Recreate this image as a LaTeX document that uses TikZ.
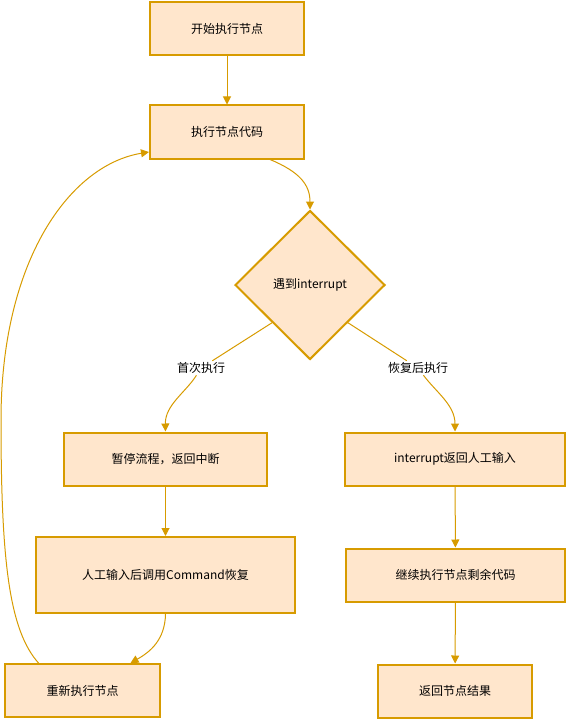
\documentclass[tikz,border=0pt]{standalone}
\usepackage{fontspec}
\setmainfont{Noto Sans CJK SC}
\usetikzlibrary{shapes.geometric,arrows.meta}

\definecolor{boxfill}{HTML}{FFE6CC}
\definecolor{boxline}{HTML}{D79B00}

\begin{document}
\begin{tikzpicture}[x=1bp,y=-1bp,
  font=\fontsize{12bp}{14bp}\selectfont,
  box/.style={draw=boxline, fill=boxfill, line width=2bp, minimum height=53bp, inner sep=0pt},
  decision/.style={diamond, draw=boxline, fill=boxfill, line width=2bp, minimum width=150bp, minimum height=149bp, inner sep=0pt},
  link/.style={draw=boxline, line width=1bp},
  flow/.style={link, -{Triangle[length=8bp,width=8bp]}},
  branch/.style={fill=white, inner sep=1.5bp}]

\useasboundingbox (0,0) rectangle (567,719);

% Main column
\node[box, minimum width=154bp] (start) at (227,28.5) {开始执行节点};
\node[box, minimum width=154bp] (code) at (227,132) {执行节点代码};
\node[decision] (check) at (310,285) {遇到interrupt};

% Left branch (first run)
\node[box, minimum width=203bp] (pause) at (165.5,459) {暂停流程，返回中断};
\node[box, minimum width=259bp, minimum height=76bp] (resume) at (165.5,575) {人工输入后调用Command恢复};
\node[box, minimum width=155bp] (rerun) at (82.5,690.5) {重新执行节点};

% Right branch (after resume)
\node[box, minimum width=220bp] (ask) at (455,459) {interrupt返回人工输入};
\node[box, minimum width=219bp] (rest) at (455.5,575) {继续执行节点剩余代码};
\node[box, minimum width=154bp] (result) at (455,691) {返回节点结果};

% Branch labels
\node[branch] (first) at (201,368) {首次执行};
\node[branch] (again) at (418,368) {恢复后执行};

% Connectors
\draw[flow] (start) -- (code);
\draw[flow] ([xshift=43bp]code.south) .. controls (300,172) and (310,185) .. (check.north);

\draw[link] (check.south west) -- (first);
\draw[flow] (first) .. controls (186,392) and (165,405) .. (pause.north);
\draw[link] (check.south east) -- (again);
\draw[flow] (again) .. controls (436,392) and (455,405) .. (ask.north);

\draw[flow] (pause) -- (resume);
\draw[flow] (resume.south) .. controls (165,640) and (150,652) .. ([xshift=48bp]rerun.north);

\draw[flow] (ask) -- (rest);
\draw[flow] (rest) -- (result);

% Loop back to the node code
\coordinate (bend) at (1,420);
\draw[flow] ([xshift=-44bp]rerun.north) .. controls (9,630) and (1,560) .. (bend)
  .. controls (1,260) and (70,165) .. ([yshift=-20bp]code.west);

\end{tikzpicture}
\end{document}
